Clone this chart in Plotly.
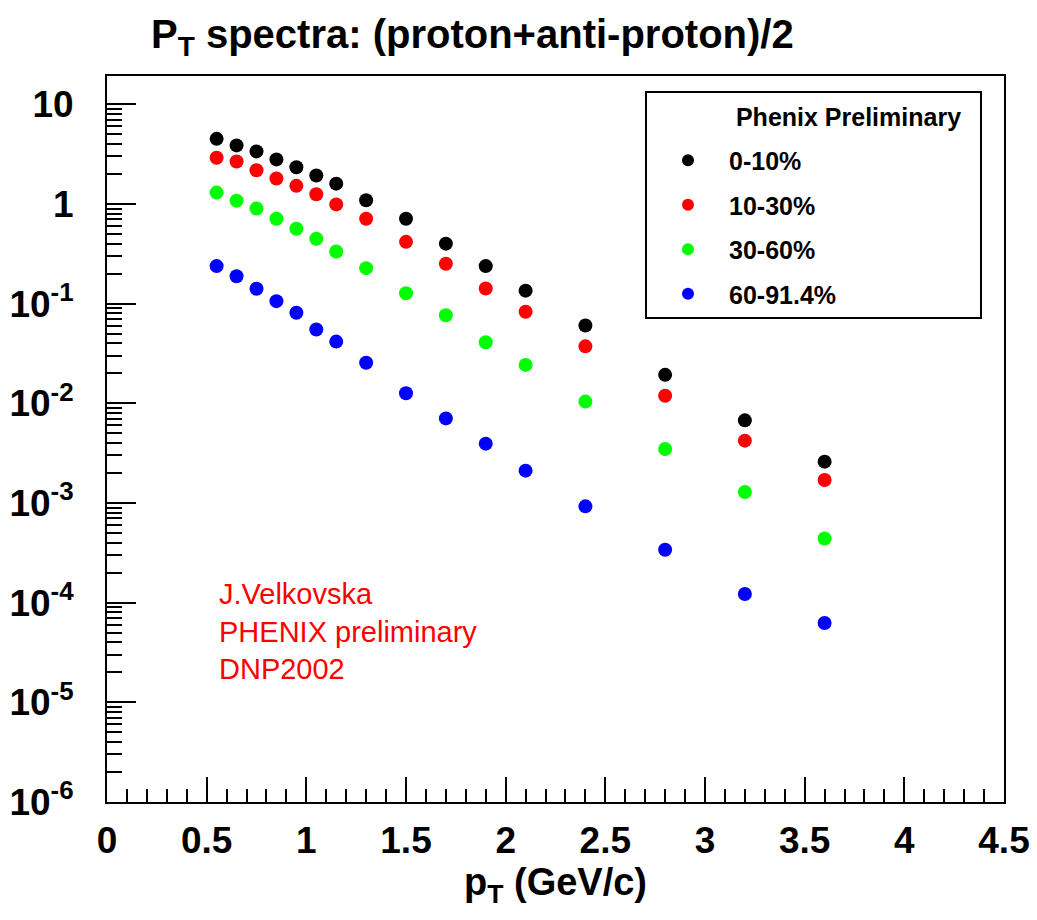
import plotly.graph_objects as go

# ---- data ----
pt = [0.55, 0.65, 0.75, 0.85, 0.95, 1.05, 1.15, 1.3, 1.5, 1.7, 1.9, 2.1, 2.4, 2.8, 3.2, 3.6]

cent_0_10 = [4.5, 3.87, 3.37, 2.80, 2.34, 1.93, 1.60, 1.09, 0.71, 0.40, 0.238, 0.135,
             0.0603, 0.0193, 0.00675, 0.0026]
cent_10_30 = [2.91, 2.67, 2.18, 1.80, 1.52, 1.25, 0.99, 0.71, 0.417, 0.251, 0.142, 0.0828,
              0.0373, 0.0119, 0.00422, 0.0017]
cent_30_60 = [1.30, 1.08, 0.90, 0.71, 0.564, 0.448, 0.334, 0.227, 0.127, 0.0765, 0.041, 0.0243,
              0.0104, 0.00348, 0.00129, 0.00044]
cent_60_91 = [0.238, 0.188, 0.141, 0.106, 0.0809, 0.055, 0.0416, 0.0255, 0.0126, 0.00706,
              0.00394, 0.00211, 0.000925, 0.00034, 0.000122, 0.0000624]

series_names = ["0-10%", "10-30%", "30-60%", "60-91.4%"]
series_values = [cent_0_10, cent_10_30, cent_30_60, cent_60_91]
series_colors = ["#000000", "#ff0000", "#00ff00", "#0000ff"]
legend_header = "Phenix Preliminary"

y_tick_vals = [1e-6, 1e-5, 1e-4, 1e-3, 1e-2, 1e-1, 1, 10]
y_tick_text = ["10<sup>-6</sup>", "10<sup>-5</sup>", "10<sup>-4</sup>", "10<sup>-3</sup>",
               "10<sup>-2</sup>", "10<sup>-1</sup>", "1", "10"]
x_tick_vals = [0, 0.5, 1, 1.5, 2, 2.5, 3, 3.5, 4, 4.5]
x_tick_text = ["0", "0.5", "1", "1.5", "2", "2.5", "3", "3.5", "4", "4.5"]

FONT = "Liberation Sans, Arial, Helvetica, sans-serif"

# minor log ticks 2..9 per decade
y_minor = [k * 10.0 ** e for e in range(-6, 2) for k in range(2, 10)]

fig = go.Figure()

# legend header row (text only, no marker)
fig.add_trace(go.Scatter(
    x=[None], y=[None], mode="markers", legendgroup="header",
    name="&nbsp;" + legend_header + "&nbsp;" * 2,
    marker=dict(color="white", opacity=0, size=14), hoverinfo="skip",
))

for name, vals, col in zip(series_names, series_values, series_colors):
    fig.add_trace(go.Scatter(
        x=pt, y=vals, mode="markers", name=name, legendgroup=name,
        marker=dict(color=col, size=14, symbol="circle", line=dict(width=0)),
    ))

fig.update_layout(
    width=1037, height=920,
    margin=dict(l=107, r=33, t=76, b=118, autoexpand=False),
    paper_bgcolor="white", plot_bgcolor="white",
    font=dict(family=FONT, color="black"),
    title=dict(
        text="P<sub>T</sub> spectra: (proton+anti-proton)/2",
        x=151 / 1037, xanchor="left", xref="container",
        y=1 - 34 / 920, yanchor="middle", yref="container",
        font=dict(family=FONT, size=40, weight="bold", color="black"),
    ),
    legend=dict(
        x=(645 - 107) / 897, xanchor="left",
        y=(802 - 91) / 726, yanchor="top",
        bordercolor="black", borderwidth=2, bgcolor="white",
        font=dict(family=FONT, size=25, weight="bold", color="black"),
        tracegroupgap=9,
        indentation=0,
        itemwidth=72,
        itemsizing="constant",
        itemclick=False, itemdoubleclick=False,
    ),
    showlegend=True,
)

fig.update_xaxes(
    range=[0, 4.5], showgrid=False, zeroline=False, automargin=False,
    showline=True, linecolor="black", linewidth=2, mirror=True,
    tickmode="array", tickvals=x_tick_vals, ticktext=x_tick_text,
    ticks="inside", ticklen=25, tickwidth=2, tickcolor="black",
    minor=dict(ticks="inside", ticklen=13, tickwidth=2, tickcolor="black",
               tickmode="linear", tick0=0, dtick=0.1, showgrid=False),
    tickfont=dict(family=FONT, size=37, weight="bold", color="black"),
    ticklabelstandoff=5,
    title=dict(text="p<sub>T</sub> (GeV/c)", standoff=6,
               font=dict(family=FONT, size=38, weight="bold", color="black")),
)

fig.update_yaxes(
    type="log", range=[-6, 1.284], showgrid=False, zeroline=False, automargin=False,
    showline=True, linecolor="black", linewidth=2, mirror=True,
    tickmode="array", tickvals=y_tick_vals, ticktext=y_tick_text,
    ticks="inside", ticklen=29, tickwidth=2, tickcolor="black",
    minor=dict(ticks="inside", ticklen=15, tickwidth=2, tickcolor="black",
               tickmode="array", tickvals=y_minor, showgrid=False),
    tickfont=dict(family=FONT, size=37, weight="bold", color="black"),
    ticklabelstandoff=24,
)

fig.add_annotation(
    text="J.Velkovska<br>PHENIX preliminary<br>DNP2002",
    xref="paper", yref="paper",
    x=(217 - 107) / 897, y=(802 - 631) / 726,
    xanchor="left", yanchor="middle", align="left", showarrow=False,
    font=dict(family=FONT, size=29, color="#ff0000"),
)

fig.write_html("out.html")
